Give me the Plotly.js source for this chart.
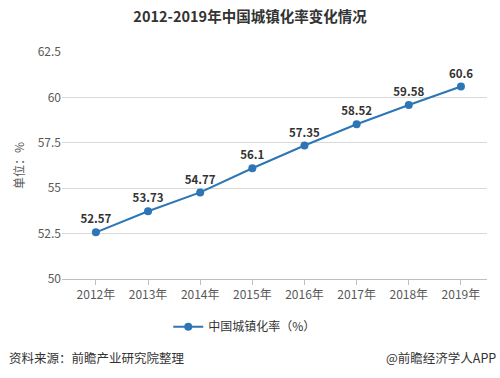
<!DOCTYPE html>
<html>
<head>
<meta charset="utf-8">
<script src="https://cdn.plot.ly/plotly-3.0.1.min.js"></script>
<style>html,body{margin:0;padding:0;background:#fff;}#chart{width:500px;height:378px;}</style>
</head>
<body>
<div id="chart"></div>
<script>
const years = ["2012年","2013年","2014年","2015年","2016年","2017年","2018年","2019年"];
const urbanRate = [52.57, 53.73, 54.77, 56.1, 57.35, 58.52, 59.58, 60.6];
const rateLabels = ["52.57","53.73","54.77","56.1","57.35","58.52","59.58","60.6"];
const yTicks = [50, 52.5, 55, 57.5, 60, 62.5];
const seriesName = "中国城镇化率（%）";

const FONT = "Noto Sans CJK SC, Noto Sans, sans-serif";
const BLUE = "#2E75B6";

const trace = {
  type: "scatter",
  mode: "lines+markers+text",
  x: years,
  y: urbanRate,
  text: rateLabels,
  textposition: "top center",
  textfont: {family: FONT, size: 11.5, color: "#333", weight: "bold"},
  line: {color: BLUE, width: 2},
  marker: {color: BLUE, size: 8},
  name: seriesName,
  cliponaxis: false
};

const layout = {
  width: 500, height: 378,
  margin: {l: 62, r: 13, t: 52, b: 99},
  paper_bgcolor: "#fff", plot_bgcolor: "#fff",
  font: {family: FONT, color: "#595959", size: 12},
  title: {text: "<b>2012-2019年中国城镇化率变化情况</b>", x: 0.5, xanchor: "center", y: 0.955, yanchor: "middle",
          font: {family: FONT, size: 14.5, color: "#333"}},
  xaxis: {
    type: "category",
    range: [-0.65, 7.5],
    showgrid: false, zeroline: false,
    showline: true, linecolor: "#bfbfbf", linewidth: 1,
    ticks: "outside", ticklen: 5, tickcolor: "#bfbfbf",
    tickfont: {family: FONT, size: 12, color: "#595959"},
    fixedrange: true
  },
  yaxis: {
    range: [50, 62.5],
    tickvals: yTicks,
    ticktext: yTicks.map(String),
    showgrid: true, gridcolor: "#d9d9d9", gridwidth: 1,
    zeroline: false, showline: false, ticks: "",
    tickfont: {family: FONT, size: 12, color: "#595959"},
    title: {text: "单位：%", font: {family: FONT, size: 12, color: "#595959"}, standoff: 10},
    fixedrange: true
  },
  showlegend: true,
  legend: {orientation: "h", x: 0.43, xanchor: "center", y: -0.21, yanchor: "middle",
           font: {family: FONT, size: 12, color: "#333"}},
  annotations: [
    {text: "资料来源：前瞻产业研究院整理", xref: "paper", yref: "paper", x: -0.13, xanchor: "left",
     y: -0.345, yanchor: "middle", showarrow: false, font: {family: FONT, size: 12.5, color: "#333"}},
    {text: "@前瞻经济学人APP", xref: "paper", yref: "paper", x: 1.025, xanchor: "right",
     y: -0.345, yanchor: "middle", showarrow: false, font: {family: FONT, size: 12.5, color: "#333"}}
  ]
};

Plotly.newPlot("chart", [trace], layout, {displayModeBar: false, staticPlot: true});
</script>
</body>
</html>
